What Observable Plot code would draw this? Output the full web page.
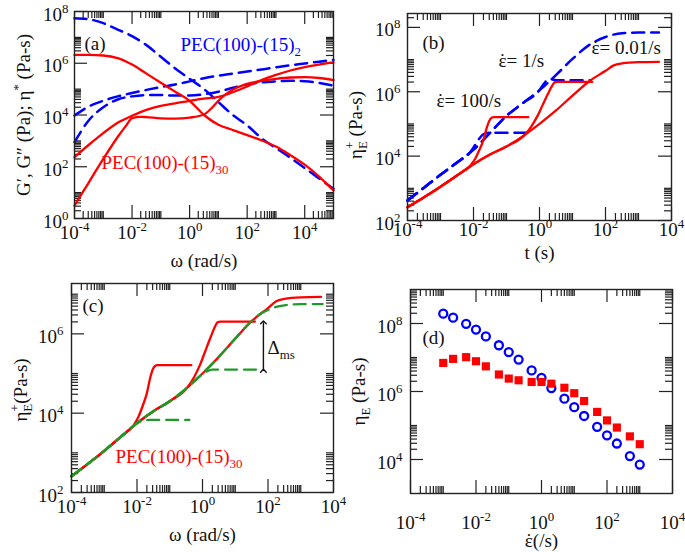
<!DOCTYPE html>
<html>
<head>
<meta charset="utf-8">
<script src="https://cdn.jsdelivr.net/npm/d3@7"></script>
<script src="https://cdn.jsdelivr.net/npm/@observablehq/plot@0.6"></script>
<style>
html,body{margin:0;padding:0;background:#fff}
#fig{position:relative;width:685px;height:552px;overflow:hidden;font-family:"Liberation Serif","Times New Roman",serif}
#fig svg{position:absolute;left:0;top:0}
#fig svg text{font-family:"Liberation Serif","Times New Roman",serif !important}
</style>
</head>
<body>
<div id="fig"></div>
<script>
// ---------- DATA (log10 values) ----------
// Panel (a): dynamic moduli and complex viscosity vs omega
const aLogOmega   = [-4,-3.5,-3,-2.5,-2,-1.5,-1,-0.5,0,0.5,1,1.5,2,2.5,3,3.5,4,4.5,5];
const aBlueEtaLog = [7.74,7.7,7.55,7.3,7.05,6.7,6.25,5.8,5.4,5.0,4.5,4.0,3.6,3.1,2.72,2.35,1.95,1.55,1.15];
const aBlueG2Log  = [3.98,4.33,4.55,4.72,4.85,4.97,5.08,5.18,5.3,5.42,5.52,5.6,5.68,5.76,5.84,5.92,5.99,6.06,6.13];
const aBlueG1Log  = [2.95,3.8,4.3,4.6,4.72,4.77,4.77,4.75,4.75,4.8,4.9,5.05,5.18,5.26,5.3,5.32,5.3,5.24,5.13];
const aRedEtaLog  = [6.32,6.32,6.3,6.2,5.95,5.6,5.25,4.9,4.55,4.0,3.62,3.42,3.22,3.02,2.78,2.45,2.08,1.62,1.08];
const aRedG2Log   = [2.37,2.85,3.3,3.7,3.97,4.2,4.35,4.45,4.55,4.63,4.7,4.88,5.1,5.35,5.55,5.72,5.85,5.95,6.03];
const aRedG1LogOmega = [-4,-3.5,-3,-2.5,-2.2,-2,-1.7,-1.5,-1,-0.5,0,0.5,0.75,1,1.25,1.5,2,2.5,3,3.5,4,4.5,5];
const aRedG1Log      = [0.5,1.4,2.3,3.15,3.6,3.88,3.93,3.92,3.87,3.86,3.9,4.02,4.25,4.55,4.8,4.98,5.2,5.32,5.4,5.45,5.46,5.43,5.35];

// Panels (b),(c): transient extensional viscosity, PEC(100)-(15)30 (red) at rates 100, 1, 0.01 /s
const redEnvLogT   = [-4,-3.5,-3,-2.5,-2,-1.5,-1,-0.5,0,0.5,1,1.5,2,2.25,2.5,3,3.62];
const redEnvLogEta = [2.41,2.72,3.05,3.4,3.75,4.05,4.3,4.62,5.0,5.42,5.88,6.32,6.65,6.82,6.88,6.92,6.93];
const red100LogT   = [-4,-3.5,-3,-2.5,-2.1,-1.95,-1.82,-1.7,-1.6,-1.52,-1.45,-1.38,-0.34];
const red100LogEta = [2.41,2.72,3.05,3.4,3.7,3.92,4.2,4.5,4.88,5.1,5.19,5.21,5.21];
const red1LogT     = [-4,-3.5,-3,-2.5,-2,-1.5,-1,-0.45,-0.25,-0.06,0.1,0.25,0.38,0.46,0.55,1.6];
const red1LogEta   = [2.41,2.72,3.05,3.4,3.75,4.05,4.3,4.66,4.92,5.25,5.6,5.92,6.18,6.29,6.31,6.31];
// PEC(100)-(15)2 (blue dashed)
const blueEnvLogT   = [-4,-3.5,-3,-2.5,-2,-1.5,-1,-0.5,0,0.5,1,1.5,2,2.5,3,3.62];
const blueEnvLogEta = [2.62,3.02,3.42,3.8,4.2,4.72,5.25,5.65,6.05,6.52,7.02,7.45,7.7,7.82,7.84,7.84];
const blue100LogT   = [-4,-3.5,-3,-2.5,-2.1,-1.95,-1.82,-1.7,-1.55,-0.36];
const blue100LogEta = [2.62,3.02,3.42,3.8,4.12,4.35,4.55,4.68,4.73,4.73];
const blue1LogT     = [-4,-3.5,-3,-2.5,-2,-1.5,-1,-0.5,0,0.15,0.25,0.35,0.5,1.55];
const blue1LogEta   = [2.62,3.02,3.42,3.8,4.2,4.72,5.25,5.65,6.05,6.27,6.38,6.39,6.36,6.36];
// Panel (c): linear viscoelastic responses (green dashed)
const green100LogT   = [-4,-3.5,-3,-2.5,-2.25,-2.05,-1.85,-1.6,-0.4];
const green100LogEta = [2.41,2.72,3.05,3.4,3.58,3.72,3.8,3.83,3.83];
const green1LogT     = [-4,-3.5,-3,-2.5,-2,-1.5,-1,-0.5,-0.2,0,0.15,0.3,1.68];
const green1LogEta   = [2.41,2.72,3.05,3.4,3.75,4.05,4.3,4.62,4.85,4.98,5.06,5.1,5.1];
const green001LogT   = [-4,-3.5,-3,-2.5,-2,-1.5,-1,-0.5,0,0.5,1,1.5,1.8,2,2.25,2.5,3,3.67];
const green001LogEta = [2.41,2.72,3.05,3.4,3.75,4.05,4.3,4.62,5.0,5.42,5.88,6.32,6.52,6.6,6.68,6.72,6.75,6.75];
const deltaMsLog     = {x: 1.86, lo: 5.07, hi: 6.29};

// Panel (d): steady extensional viscosity vs strain rate
const dRates   = [0.001,0.002,0.005,0.01,0.02,0.05,0.1,0.2,0.5,1,2,5,10,20,50,100,200,500,1000];
const dBlueLog = [8.29,8.17,7.99,7.82,7.62,7.36,7.16,6.94,6.62,6.40,6.10,5.79,5.54,5.28,4.96,4.71,4.47,4.10,3.85];
const dRedLog  = [6.84,6.96,7.01,6.89,6.74,6.50,6.38,6.33,6.28,6.28,6.23,6.11,5.95,5.72,5.40,5.15,4.94,4.68,4.45];

// Axis tick values
const xMajor6  = [1e-4,1e-2,1,1e2,1e4];
const aYMajor  = [1,1e2,1e4,1e6,1e8];
const bYMajor  = [1e2,1e4,1e6,1e8];
const cYMajor  = [1e2,1e4,1e6];
const dYMajor  = [1e4,1e6,1e8];

// ---------- helpers ----------
const W = 685, H = 552;
const RED = "#ff0000", BLUE = "#0000ff", GREEN = "#1f9a2a", INK = "#111";
const FONT = '"Liberation Serif","Times New Roman",serif';
const pts = (lx, ly) => lx.map((v, i) => ({x: 10 ** v, y: 10 ** ly[i]}));
const expLabel = d => `10^{${Math.round(Math.log10(d))}}`;

function minorTicks(majors, [lo, hi]) {
  const out = [];
  for (const m of majors) for (let k = 2; k <= 10; k++) {
    const v = k * m;
    if (v > lo * 1.0001 && v < hi * 0.9999) out.push(v);
  }
  return out;
}

const txt = (data, o) => Plot.text(data, {lineAnchor: "middle", fontFamily: FONT, fill: INK, ...o});

function panel(cfg) {
  const [x0, x1, y0, y1] = cfg.box;
  const fw = x1 - x0, fh = y1 - y0;
  const MA = 13, MI = 7, tk = {stroke: "#222", strokeWidth: 1.2};
  const xMin = minorTicks(cfg.xMajor, cfg.xdom), yMin = minorTicks(cfg.yMajor, cfg.ydom);
  const marks = [
    Plot.tickX(cfg.xMajor, {x: d => d, insetTop: fh - MA, ...tk}),
    Plot.tickX(cfg.xMajor, {x: d => d, insetBottom: fh - MA, ...tk}),
    Plot.tickX(xMin, {x: d => d, insetTop: fh - MI, ...tk}),
    Plot.tickX(xMin, {x: d => d, insetBottom: fh - MI, ...tk}),
    Plot.tickY(cfg.yMajor, {y: d => d, insetRight: fw - MA, ...tk}),
    Plot.tickY(cfg.yMajor, {y: d => d, insetLeft: fw - MA, ...tk}),
    Plot.tickY(yMin, {y: d => d, insetRight: fw - MI, ...tk}),
    Plot.tickY(yMin, {y: d => d, insetLeft: fw - MI, ...tk}),
    txt(cfg.xMajor, {x: d => d, frameAnchor: "bottom", dy: cfg.xTickDy, text: expLabel, fontSize: 19, textAnchor: "middle"}),
    txt(cfg.yMajor, {y: d => d, frameAnchor: "left", dx: -cfg.yTickGap, dy: 3, text: expLabel, fontSize: 19, textAnchor: "end"}),
    txt([cfg.xLabel], {frameAnchor: "bottom", dy: cfg.xLabelDy, text: d => d, fontSize: 19, textAnchor: "middle"}),
    txt([cfg.yLabel], {frameAnchor: "left", dx: cfg.yLabelDx, dy: cfg.yLabelDy || 0, rotate: -90, text: d => d, fontSize: 19, textAnchor: "middle"}),
    ...cfg.marks,
    Plot.frame({stroke: "#222", strokeWidth: 1.4})
  ];
  return Plot.plot({
    width: W, height: H,
    marginLeft: x0, marginRight: W - x1, marginTop: y0, marginBottom: H - y1,
    x: {type: "log", domain: cfg.xdom, axis: null},
    y: {type: "log", domain: cfg.ydom, axis: null},
    style: {background: "transparent", fontFamily: FONT, overflow: "visible"},
    marks
  });
}

const note = (s, dx, dy, fill = INK, size = 19) =>
  txt([s], {frameAnchor: "top-left", dx, dy, text: d => d, textAnchor: "start", fill, fontSize: size});

const solid = (data, stroke) => Plot.line(data, {x: "x", y: "y", stroke, strokeWidth: 2.3, curve: "monotone-x"});
const dashed = (data, stroke, w = 2.5) => Plot.line(data, {x: "x", y: "y", stroke, strokeWidth: w, strokeDasharray: "12,7", curve: "monotone-x"});

// ---------- panel (a) ----------
const pa = panel({
  box: [74, 333, 11, 218], xdom: [1e-4, 1e5], ydom: [1, 1e8],
  xMajor: xMajor6, yMajor: aYMajor, xTickDy: 14, yTickGap: 6,
  xLabel: "ω (rad/s)", xLabelDy: 42,
  yLabel: "G′, G″ (Pa); η^{*} (Pa-s)", yLabelDx: -51,
  marks: [
    dashed(pts(aLogOmega, aBlueEtaLog), BLUE),
    dashed(pts(aLogOmega, aBlueG2Log), BLUE),
    dashed(pts(aLogOmega, aBlueG1Log), BLUE),
    solid(pts(aLogOmega, aRedEtaLog), RED),
    solid(pts(aLogOmega, aRedG2Log), RED),
    solid(pts(aRedG1LogOmega, aRedG1Log), RED),
    note("(a)", 10, 32),
    note("PEC(100)-(15)_{2}", 106, 33, BLUE),
    note("PEC(100)-(15)_{30}", 27, 151, RED)
  ]
});

// ---------- panel (b) ----------
const pb = panel({
  box: [407, 671, 13, 220], xdom: [1e-4, 1e4], ydom: [1e2, 2.7e8],
  xMajor: xMajor6, yMajor: bYMajor, xTickDy: 9, yTickGap: 7,
  xLabel: "t (s)", xLabelDy: 32,
  yLabel: "η^{+}_{E} (Pa-s)", yLabelDx: -52, yLabelDy: 8,
  marks: [
    dashed(pts(blueEnvLogT, blueEnvLogEta), BLUE),
    dashed(pts(blue100LogT, blue100LogEta), BLUE),
    dashed(pts(blue1LogT, blue1LogEta), BLUE),
    solid(pts(redEnvLogT, redEnvLogEta), RED),
    solid(pts(red100LogT, red100LogEta), RED),
    solid(pts(red1LogT, red1LogEta), RED),
    note("(b)", 15, 29),
    note("\\dot{ε}= 1/s", 91, 47),
    note("\\dot{ε}= 100/s", 29, 87),
    note("\\dot{ε}= 0.01/s", 184, 34)
  ]
});

// ---------- panel (c) ----------
const pc = panel({
  box: [71, 333, 283, 492], xdom: [1e-4, 1e4], ydom: [1e2, 1.86e7],
  xMajor: xMajor6, yMajor: cYMajor, xTickDy: 14, yTickGap: 8,
  xLabel: "ω (rad/s)", xLabelDy: 42,
  yLabel: "η^{+}_{E}(Pa-s)", yLabelDx: -51, yLabelDy: 2,
  marks: [
    solid(pts(redEnvLogT, redEnvLogEta), RED),
    solid(pts(red100LogT, red100LogEta), RED),
    solid(pts(red1LogT, red1LogEta), RED),
    dashed(pts(green001LogT, green001LogEta), GREEN, 2.3),
    dashed(pts(green100LogT, green100LogEta), GREEN, 2.3),
    dashed(pts(green1LogT, green1LogEta), GREEN, 2.3),
    Plot.link([deltaMsLog], {
      x1: d => 10 ** d.x, x2: d => 10 ** d.x, y1: d => 10 ** d.lo, y2: d => 10 ** d.hi,
      stroke: INK, strokeWidth: 1.4, markerStart: "arrow", markerEnd: "arrow"
    }),
    note("(c)", 11, 22),
    note("Δ_{ms}", 196, 64),
    note("PEC(100)-(15)_{30}", 44, 173, RED)
  ]
});

// ---------- panel (d) ----------
const pd = panel({
  box: [410, 672, 289, 493], xdom: [1e-4, 1e4], ydom: [1e3, 1e9],
  xMajor: xMajor6, yMajor: dYMajor, xTickDy: 29, yTickGap: 8,
  xLabel: "\\dot{ε}(/s)", xLabelDy: 47,
  yLabel: "η_{E} (Pa-s)", yLabelDx: -52,
  marks: [
    Plot.dot(pts(dRates.map(Math.log10), dBlueLog), {x: "x", y: "y", r: 4, stroke: BLUE, strokeWidth: 2.3, fill: "none"}),
    Plot.dot(pts(dRates.map(Math.log10), dRedLog), {x: "x", y: "y", r: 4.6, symbol: "square", fill: RED, stroke: "none"}),
    note("(d)", 12, 48)
  ]
});

const fig = document.getElementById("fig");
for (const p of [pa, pb, pc, pd]) fig.appendChild(p);

// ---------- render ^{sup}, _{sub} and \dot{x} markup as tspans ----------
function richify(svg) {
  const NS = "http://www.w3.org/2000/svg";
  svg.querySelectorAll("text").forEach(t => {
    const s = t.textContent;
    if (!/(\^|_|\\dot)\{/.test(s)) return;
    const fs = parseFloat(getComputedStyle(t).fontSize) || 16;
    while (t.firstChild) t.removeChild(t.firstChild);
    const re = /(\^|_|\\dot)\{([^}]*)\}/g;
    let last = 0, m, cur = 0, prevSup = null, pendingDx = 0;
    const span = (str, size) => {
      const ts = document.createElementNS(NS, "tspan");
      ts.textContent = str;
      ts.setAttribute("font-size", size);
      t.appendChild(ts);
      if (pendingDx) { ts.setAttribute("dx", pendingDx.toFixed(2)); pendingDx = 0; }
      return ts;
    };
    const add = (str, kind) => {
      if (kind === "\\dot") {
        const base = span(str, fs);
        if (cur !== 0) { base.setAttribute("dy", (-cur).toFixed(2)); cur = 0; }
        const w1 = base.getComputedTextLength();
        const dot = span("\u02D9", fs);
        const w2 = dot.getComputedTextLength();
        dot.setAttribute("dx", (-(w1 + w2) / 2).toFixed(2));
        pendingDx = (w1 - w2) / 2;
        prevSup = null;
        return;
      }
      let target = 0, size = fs;
      if (kind === "^") { target = -0.42 * fs; size = 0.68 * fs; }
      if (kind === "_") { target = 0.3 * fs; size = 0.68 * fs; }
      const ts = span(str, size);
      if (Math.abs(target - cur) > 1e-6) ts.setAttribute("dy", (target - cur).toFixed(2));
      cur = target;
      if (kind === "_" && prevSup) ts.setAttribute("dx", (-prevSup.getComputedTextLength()).toFixed(2));
      prevSup = kind === "^" ? ts : null;
    };
    while ((m = re.exec(s))) {
      if (m.index > last) add(s.slice(last, m.index), "");
      add(m[2], m[1]);
      last = re.lastIndex;
    }
    if (last < s.length) add(s.slice(last), "");
  });
}
fig.querySelectorAll("svg").forEach(richify);
</script>
</body>
</html>
